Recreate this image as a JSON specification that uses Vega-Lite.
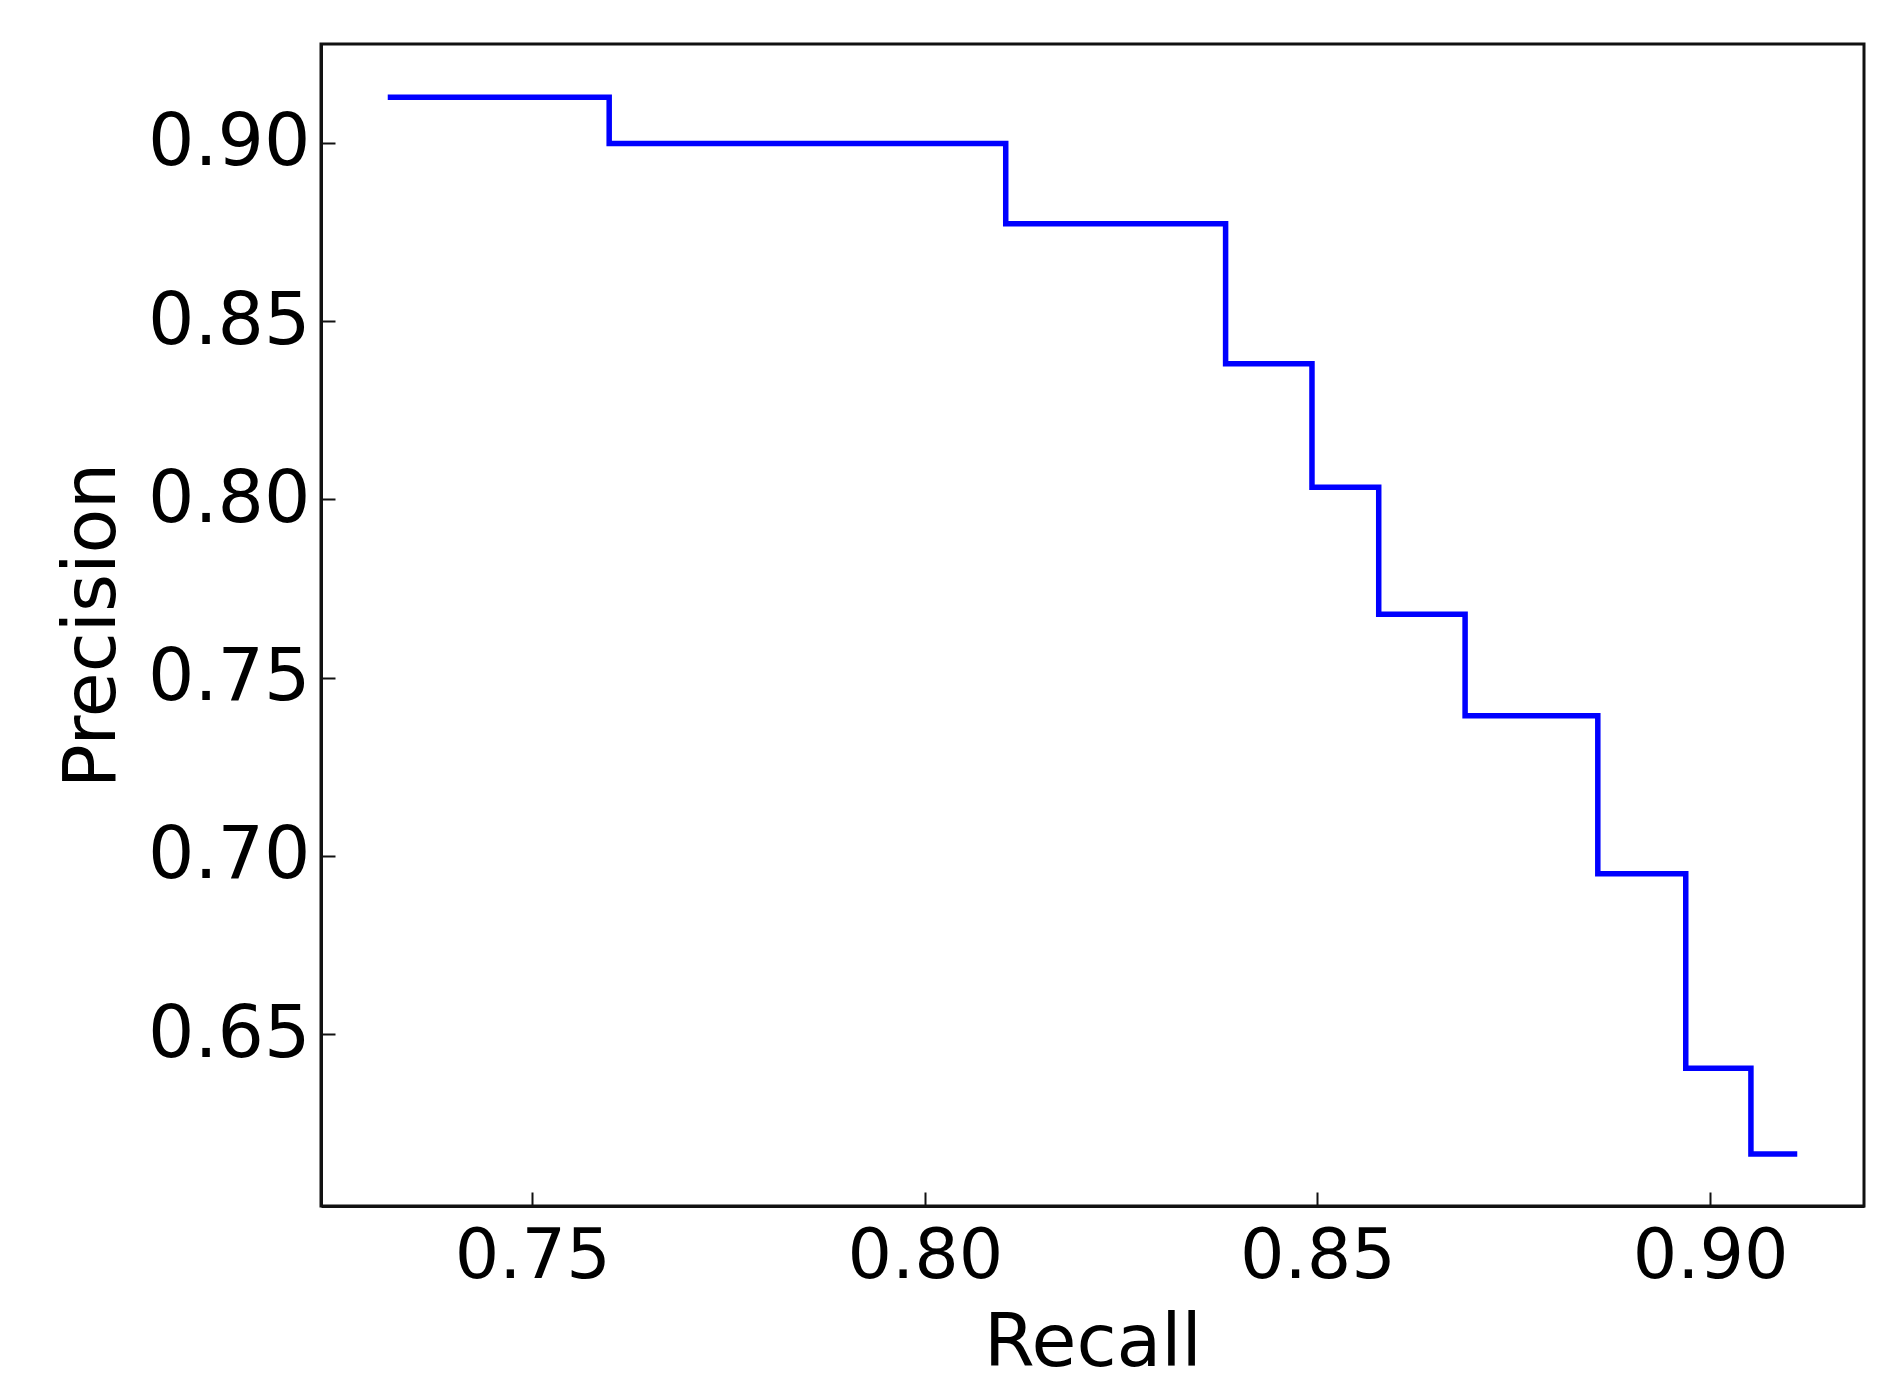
{
  "$schema": "https://vega.github.io/schema/vega-lite/v6.json",
  "autosize": {"type": "none"},
  "width": 1543,
  "height": 1162,
  "padding": {"left": 321, "top": 44, "right": 40, "bottom": 184},
  "background": "white",
  "config": {
    "view": {"stroke": "#111111", "strokeWidth": 3},
    "font": "DejaVu Sans"
  },
  "data": {
    "values": [
      {"recall": 0.7316, "precision": 0.9128},
      {"recall": 0.7598, "precision": 0.8998},
      {"recall": 0.8103, "precision": 0.8773},
      {"recall": 0.8383, "precision": 0.8380},
      {"recall": 0.8493, "precision": 0.8034},
      {"recall": 0.8578, "precision": 0.7678},
      {"recall": 0.8688, "precision": 0.7393},
      {"recall": 0.8857, "precision": 0.6950},
      {"recall": 0.8969, "precision": 0.6404},
      {"recall": 0.9052, "precision": 0.6164},
      {"recall": 0.9111, "precision": 0.6164}
    ]
  },
  "mark": {"type": "line", "interpolate": "step-after", "color": "#0000ff", "strokeWidth": 5.5, "strokeJoin": "miter", "strokeCap": "butt", "clip": true},
  "encoding": {
    "x": {
      "field": "recall",
      "type": "quantitative",
      "scale": {"domain": [0.7231, 0.9196], "nice": false, "zero": false},
      "axis": {
        "values": [0.75, 0.8, 0.85, 0.9],
        "format": ".2f",
        "grid": false,
        "title": "Recall",
        "labelFont": "DejaVu Sans",
        "labelFontSize": 70,
        "labelColor": "black",
        "labelPadding": 30,
        "tickSize": -14,
        "tickWidth": 2,
        "tickColor": "#111111",
        "domainColor": "#111111",
        "domainWidth": 3,
        "titleFont": "DejaVu Sans",
        "titleFontSize": 73,
        "titleFontWeight": "normal",
        "titleColor": "black",
        "titlePadding": 16
      }
    },
    "y": {
      "field": "precision",
      "type": "quantitative",
      "scale": {"domain": [0.6018, 0.9277], "nice": false, "zero": false},
      "axis": {
        "values": [0.65, 0.7, 0.75, 0.8, 0.85, 0.9],
        "format": ".2f",
        "grid": false,
        "title": "Precision",
        "labelFont": "DejaVu Sans",
        "labelFontSize": 73,
        "labelColor": "black",
        "labelPadding": 25,
        "tickSize": -14,
        "tickWidth": 2,
        "tickColor": "#111111",
        "domainColor": "#111111",
        "domainWidth": 3,
        "titleFont": "DejaVu Sans",
        "titleFontSize": 73,
        "titleFontWeight": "normal",
        "titleColor": "black",
        "titlePadding": 18
      }
    }
  }
}
